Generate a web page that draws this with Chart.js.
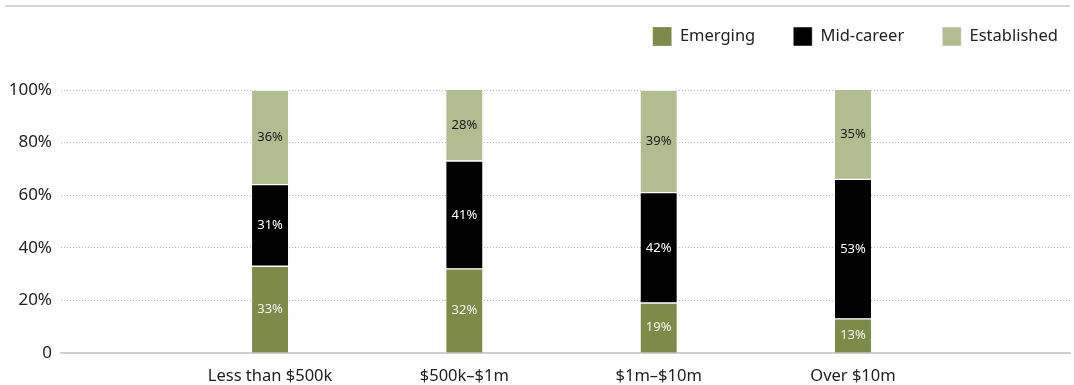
<!DOCTYPE html>
<html>
<head>
<meta charset="utf-8">
<script src="https://cdn.jsdelivr.net/npm/chart.js@4/dist/chart.umd.min.js"></script>
<style>
  html, body { margin: 0; padding: 0; background: #fff; }
  #wrap { width: 1074px; height: 385px; position: relative; }
</style>
</head>
<body>
<div id="wrap"><canvas id="c" width="1074" height="385"></canvas></div>
<script>
const categories = ['Less than $500k', '$500k\u2013$1m', '$1m\u2013$10m', 'Over $10m'];
const emerging = [33, 32, 19, 13];
const midCareer = [31, 41, 42, 53];
const established = [36, 28, 39, 35];
const yTicks = [0, 20, 40, 60, 80, 100];

const colors = { emerging: '#7c8b48', mid: '#000000', established: '#b1bc91' };
const labelColors = ['#f2f2f2', '#ffffff', '#1a1a1a'];

function toPoints(arr) { return arr.map((v, i) => ({ x: i, y: v })); }

const topLine = {
  id: 'topLine',
  beforeDraw(chart) {
    const ctx = chart.ctx;
    ctx.save();
    ctx.fillStyle = '#d6d6d6';
    ctx.fillRect(5, 5, 1065, 2);
    ctx.restore();
  }
};

const legendTweak = {
  id: 'legendTweak',
  beforeInit(chart) {
    const lg = chart.legend;
    if (!lg) return;
    const fit = lg.fit;
    lg.fit = function () {
      fit.call(this);
      this.height = 90;
    };
  },
  afterLayout(chart) {
    const lg = chart.legend;
    if (!lg) return;
    const dx = 26, newTop = -11;
    lg.left += dx; lg.right += dx;
    const h = lg.bottom - lg.top;
    lg.top = newTop; lg.bottom = newTop + h;
  }
};

const barLabels = {
  id: 'barLabels',
  afterDatasetsDraw(chart) {
    const ctx = chart.ctx;
    const area = chart.chartArea;
    ctx.save();
    ctx.font = '13px "Noto Sans"';
    ctx.textAlign = 'center';
    ctx.textBaseline = 'middle';
    chart.data.datasets.forEach((ds, di) => {
      const meta = chart.getDatasetMeta(di);
      meta.data.forEach((el, i) => {
        const p = el.getProps(['x', 'y', 'base'], true);
        const top = Math.max(p.y, area.top);
        const bot = Math.min(p.base, area.bottom);
        ctx.fillStyle = labelColors[di];
        ctx.fillText(ds.data[i].y + '%', p.x, (top + bot) / 2);
      });
    });
    ctx.restore();
  }
};

const seg = { top: 1, bottom: 1, left: 0, right: 0 };

new Chart(document.getElementById('c'), {
  type: 'bar',
  data: {
    datasets: [
      { label: 'Emerging', data: toPoints(emerging), backgroundColor: colors.emerging, borderColor: '#fff', borderWidth: { top: 1, bottom: 0, left: 0, right: 0 }, borderSkipped: false, clip: 0 },
      { label: 'Mid-career', data: toPoints(midCareer), backgroundColor: colors.mid, borderColor: '#fff', borderWidth: seg, borderSkipped: false, clip: 0 },
      { label: 'Established', data: toPoints(established), backgroundColor: colors.established, borderColor: '#fff', borderWidth: seg, borderSkipped: false, clip: 0 }
    ]
  },
  options: {
    responsive: false,
    animation: false,
    barThickness: 36,
    layout: { padding: { top: 0, right: 4, left: 8, bottom: 0 } },
    plugins: {
      tooltip: { enabled: false },
      legend: {
        position: 'top',
        align: 'end',
        labels: {
          boxWidth: 19,
          boxHeight: 19,
          padding: 38,
          color: '#222',
          font: { family: '"Noto Sans"', size: 16.5 }
        }
      }
    },
    scales: {
      x: {
        type: 'linear',
        offset: false,
        stacked: true,
        min: -1.076,
        max: 4.117,
        afterBuildTicks(scale) { scale.ticks = categories.map((c, i) => ({ value: i })); },
        afterFit(scale) { scale.height = 32; },
        grid: { display: false, drawTicks: false },
        border: { display: true, color: '#cfcfcf', width: 2 },
        ticks: {
          autoSkip: false,
          maxRotation: 0,
          padding: 13,
          color: '#222',
          font: { family: '"Noto Sans"', size: 16.5 },
          callback: (v) => categories[v]
        }
      },
      y: {
        stacked: true,
        min: 0,
        max: 100,
        afterBuildTicks(scale) { scale.ticks = yTicks.map(v => ({ value: v })); },
        afterFit(scale) { scale.width = 53; },
        grid: { color: '#b5b5b5', lineWidth: 1, drawTicks: false },
        border: { display: false, dash: [1, 2] },
        ticks: {
          padding: 9,
          color: '#222',
          font: { family: '"Noto Sans"', size: 17 },
          callback: (v) => v === 0 ? '0' : v + '%'
        }
      }
    }
  },
  plugins: [topLine, legendTweak, barLabels]
});
</script>
</body>
</html>
